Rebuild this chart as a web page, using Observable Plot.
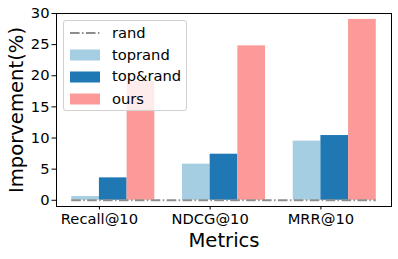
<!DOCTYPE html>
<html>
<head>
<meta charset="utf-8">
<script src="https://cdn.jsdelivr.net/npm/d3@7"></script>
<script src="https://cdn.jsdelivr.net/npm/@observablehq/plot@0.6"></script>
<style>
  html, body { margin: 0; padding: 0; background: #fff; }
  #wrap { position: relative; width: 398px; height: 259px; font-family: "DejaVu Sans", sans-serif; }
  #legend { position: absolute; left: 63px; top: 20px; width: 124px; height: 91px;
    border: 1px solid #d0d0d0; border-radius: 3px; background: rgba(255,255,255,0.8);
    box-sizing: border-box; font-size: 14.7px; color: #000; }
  .row { position: absolute; left: 0; height: 20px; display: flex; align-items: center; }
  .row svg { margin-left: 6px; }
  .row span { margin-left: 12px; line-height: 1; }
</style>
</head>
<body>
<div id="wrap"></div>
<script>
const categories = ["Recall@10", "NDCG@10", "MRR@10"];
const seriesNames = ["toprand", "top&rand", "ours"];
const seriesColors = ["#a6cee3", "#1f78b4", "#fb9a99"];
const toprand = [0.6, 5.8, 9.5];
const topAndRand = [3.6, 7.4, 10.4];
const ours = [19.1, 24.8, 29.05];
const rand = [0, 0, 0];
const yTicks = [0, 5, 10, 15, 20, 25, 30];
const randColor = "#8a8f8c";
const dash = "9.6,2.4,1.5,2.4";

const seriesValues = [toprand, topAndRand, ours];
const barW = 0.25;
const bars = [];
seriesValues.forEach((vals, k) => {
  vals.forEach((v, i) => {
    const x1 = i + (k - 1) * barW;
    bars.push({series: seriesNames[k], x1, x2: x1 + barW, value: v});
  });
});
const xMin = d3.min(bars, d => d.x1), xMax = d3.max(bars, d => d.x2);
const pad = (xMax - xMin) * 0.05;

const chart = Plot.plot({
  width: 398, height: 259,
  marginLeft: 56, marginRight: 7, marginTop: 13, marginBottom: 53,
  style: {fontSize: "14.7px", fontFamily: "DejaVu Sans", color: "#000", background: "transparent"},
  x: {domain: [xMin - pad, xMax + pad], ticks: [0, 1, 2], tickFormat: i => categories[i],
      tickSize: 3.5, tickPadding: 4, label: null},
  y: {domain: [-1, 30], ticks: yTicks, tickSize: 4.5, tickPadding: 2.5, label: null},
  color: {domain: seriesNames, range: seriesColors},
  marks: [
    Plot.rect(bars, {x1: "x1", x2: "x2", y1: 0, y2: "value", fill: "series"}),
    Plot.ruleY([rand[0]], {x1: xMin, x2: xMax, stroke: randColor, strokeWidth: 2, strokeDasharray: dash}),
    Plot.frame({stroke: "#000", strokeWidth: 1}),
    Plot.text(["Imporvement(%)"], {frameAnchor: "left", dx: -40, rotate: -90, textAnchor: "middle", lineAnchor: "middle", fontSize: 19.6, fill: "#000"}),
    Plot.text(["Metrics"], {frameAnchor: "bottom", dy: 34, textAnchor: "middle", lineAnchor: "middle", fontSize: 19.6, fill: "#000"})
  ]
});
const wrap = document.getElementById("wrap");
wrap.appendChild(chart);

const legend = document.createElement("div");
legend.id = "legend";
const rows = [{name: "rand", type: "line"}].concat(seriesNames.map((n, k) => ({name: n, type: "patch", color: seriesColors[k]})));
const rowCenters = [12, 34, 55.5, 78];
rows.forEach((r, j) => {
  const row = document.createElement("div");
  row.className = "row";
  row.style.top = (rowCenters[j] - 10) + "px";
  const sw = r.type === "line"
    ? `<svg width="30" height="12"><line x1="0" x2="30" y1="6" y2="6" stroke="${randColor}" stroke-width="2" stroke-dasharray="${dash}"/></svg>`
    : `<svg width="30" height="12"><rect x="0" y="0.5" width="30" height="11" fill="${r.color}"/></svg>`;
  row.innerHTML = sw + `<span></span>`;
  row.querySelector("span").textContent = r.name;
  legend.appendChild(row);
});
wrap.appendChild(legend);
</script>
</body>
</html>
